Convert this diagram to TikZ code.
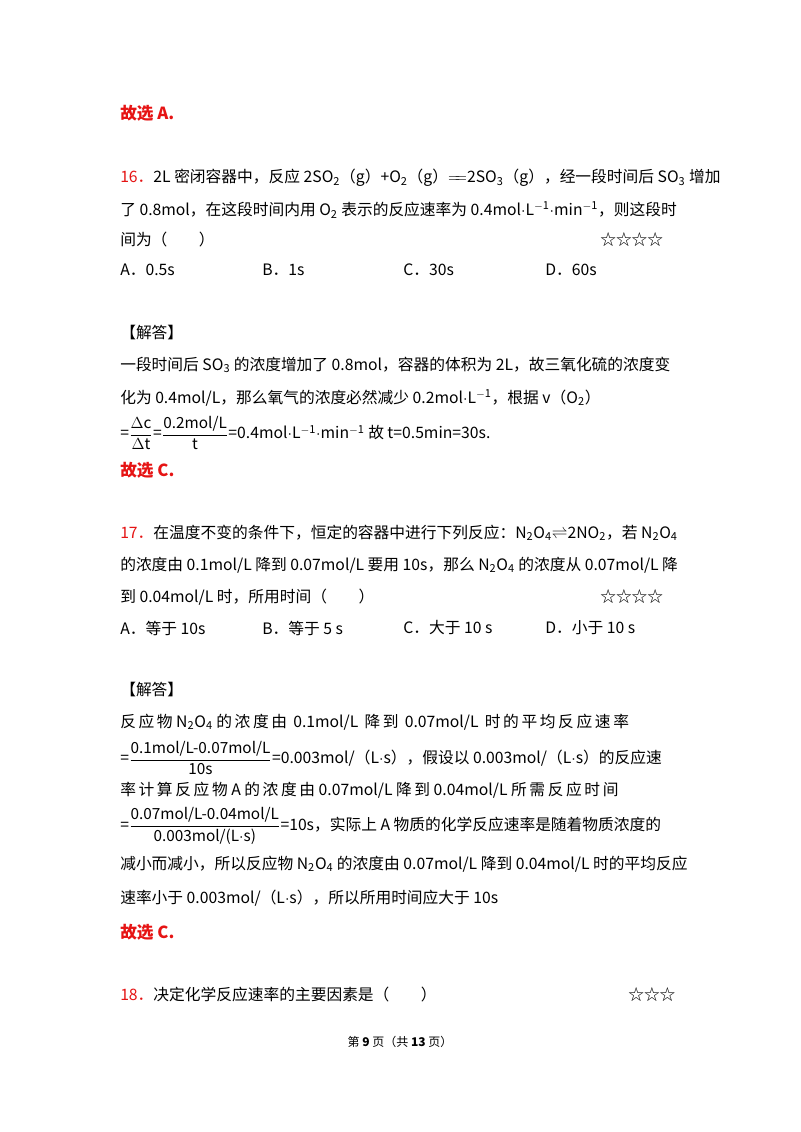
\documentclass[tikz,border=0pt]{standalone}
\usepackage{fontspec}
\setmainfont{Noto Sans CJK SC}
\begin{document}
\begin{tikzpicture}[x=0.75pt,y=-0.75pt,
 every node/.style={inner sep=0pt,anchor=west,font=\fontsize{11.8}{14}\selectfont},
 red/.style={text={rgb,255:red,230;green,20;blue,20}},
 ans/.style={red,font=\fontsize{12.5}{14}\selectfont\bfseries}]
\useasboundingbox[fill=white] (0,0) rectangle (800,1132);
\newcommand{\sB}[1]{$_{\mathrm{#1}}$}
\newcommand{\sP}[1]{$^{\mathrm{#1}}$}
\newcommand{\fr}[2]{$\displaystyle\frac{\mbox{\fontsize{11.5}{12}\selectfont #1}}{\mbox{\fontsize{11.5}{12}\selectfont #2}}$}
\node[ans] (a0) at (120,113) {故选 A.};
\node (q16) at (120,178) {{\color[rgb]{0.9,0.08,0.08}16．}2L 密闭容器中，反应 2SO\sB{2}（g）+O\sB{2}（g）$=\!\!=$2SO\sB{3}（g），经一段时间后 SO\sB{3} 增加};
\node (l2) at (120,210) {了 0.8mol，在这段时间内用 O\sB{2} 表示的反应速率为 0.4mol$\cdot$L\sP{-1}$\cdot$min\sP{-1}，则这段时};
\node (l3) at (120,240) {间为（\qquad ）};
\node (s16) at (600,240) {☆☆☆☆};
\node (oA) at (120,270) {A．0.5s};
\node (oB) at (262,270) {B．1s};
\node (oC) at (403,270) {C．30s};
\node (oD) at (545,270) {D．60s};
\node (j1) at (120,333) {【解答】};
\node (j2) at (120,365) {一段时间后 SO\sB{3} 的浓度增加了 0.8mol，容器的体积为 2L，故三氧化硫的浓度变};
\node (j3) at (120,398) {化为 0.4mol/L，那么氧气的浓度必然减少 0.2mol$\cdot$L\sP{-1}，根据 v（O\sB{2}）};
\node (j4) at (120,433) {=\fr{$\Delta$c}{$\Delta$t}=\fr{0.2mol/L}{t}=0.4mol$\cdot$L\sP{-1}$\cdot$min\sP{-1} 故 t=0.5min=30s.};
\node[ans] (a1) at (120,470) {故选 C.};
\node (q17) at (120,533) {{\color[rgb]{0.9,0.08,0.08}17．}在温度不变的条件下，恒定的容器中进行下列反应：N\sB{2}O\sB{4}$\rightleftharpoons$2NO\sB{2}，若 N\sB{2}O\sB{4}};
\node (k2) at (120,565) {的浓度由 0.1mol/L 降到 0.07mol/L 要用 10s，那么 N\sB{2}O\sB{4} 的浓度从 0.07mol/L 降};
\node (k3) at (120,597) {到 0.04mol/L 时，所用时间（\qquad ）};
\node (s17) at (600,597) {☆☆☆☆};
\node (pA) at (120,628) {A．等于 10s};
\node (pB) at (262,628) {B．等于 5 s};
\node (pC) at (403,628) {C．大于 10 s};
\node (pD) at (545,628) {D．小于 10 s};
\node (m1) at (120,690) {【解答】};
\node (m2) at (120,722) {反\,应\,物 N\sB{2}O\sB{4} 的\,浓\,度\,由\, 0.1mol/L\, 降\,到\, 0.07mol/L\, 时\,的\,平\,均\,反\,应\,速\,率};
\node (m3) at (120,758) {=\fr{0.1mol/L-0.07mol/L}{10s}=0.003mol/（L$\cdot$s），假设以 0.003mol/（L$\cdot$s）的反应速};
\node (m4) at (120,790) {率\,计\,算\,反\,应\,物 A 的\,浓\,度\,由 0.07mol/L 降\,到 0.04mol/L 所\,需\,反\,应\,时\,间};
\node (m5) at (120,826) {=\fr{0.07mol/L-0.04mol/L}{0.003mol/(L$\cdot$s)}=10s，实际上 A 物质的化学反应速率是随着物质浓度的};
\node (m6) at (120,864) {减小而减小，所以反应物 N\sB{2}O\sB{4} 的浓度由 0.07mol/L 降到 0.04mol/L 时的平均反应};
\node (m7) at (120,898) {速率小于 0.003mol/（L$\cdot$s），所以所用时间应大于 10s};
\node[ans] (a2) at (120,932) {故选 C.};
\node (q18) at (120,995) {{\color[rgb]{0.9,0.08,0.08}18．}决定化学反应速率的主要因素是（\qquad ）};
\node (s18) at (628,995) {☆☆☆};
\node[anchor=center,font=\fontsize{9}{10}\selectfont] (ft) at (400,1042) {第 \textbf{9} 页（共 \textbf{13} 页）};
\end{tikzpicture}
\end{document}
